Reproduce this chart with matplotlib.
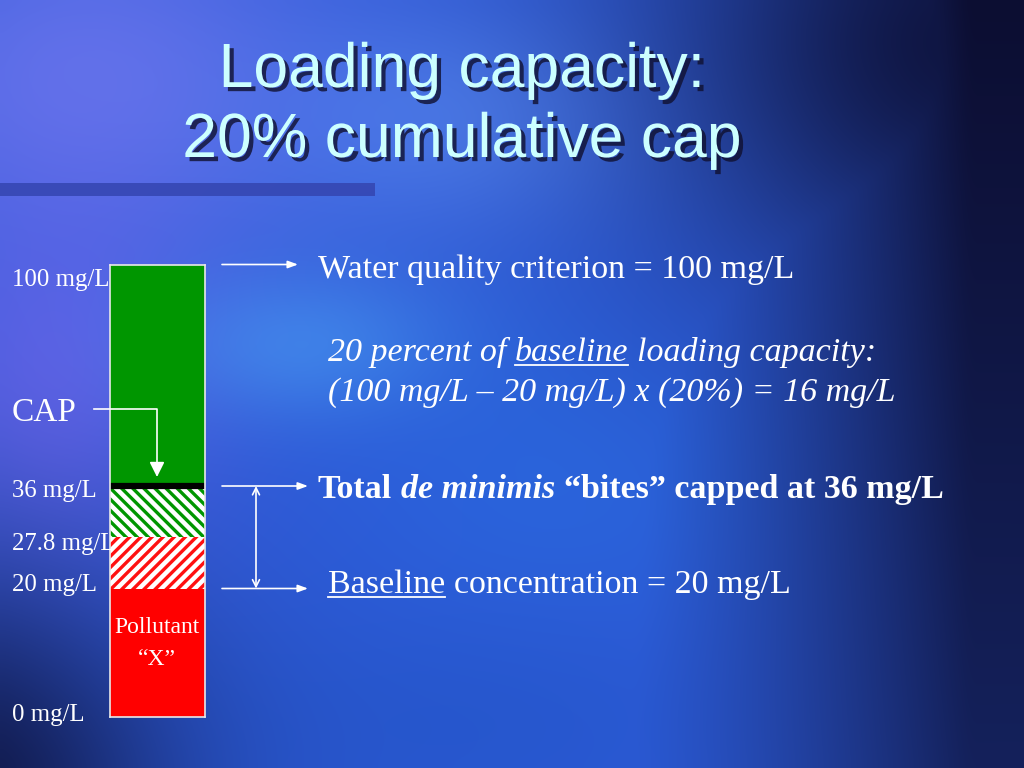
import numpy as np
import matplotlib
matplotlib.use("Agg")
import matplotlib.pyplot as plt
import matplotlib.patheffects as pe
from matplotlib import transforms

# concentration levels (mg/L) and the bar segments between them
levels = [0, 20, 27.8, 36, 100]
level_labels = ["0 mg/L", "20 mg/L", "27.8 mg/L", "36 mg/L", "100 mg/L"]
seg_faces = ["#ff0000", "white", "white", "#009600"]
seg_hatches = [None, "///", "\\\\\\", None]
seg_hatch_colors = ["#ff0000", "#ff1010", "#009600", "#009600"]
baseline = 20
cap = 36
criterion = 100

# where each level sits on the (not to scale) slide bar, px above the bar bottom
level_pos = [0, 128, 179.5, 230.5, 452]

W, H = 1024, 768
plt.rcParams["hatch.linewidth"] = 2.4
serif = "Liberation Serif"

fig = plt.figure(figsize=(W / 100, H / 100), dpi=100)

# ---- background ----
ov = fig.add_axes([0, 0, 1, 1])
ov.set_xlim(0, W)
ov.set_ylim(H, 0)
ov.axis("off")

gx, gy = np.meshgrid(np.linspace(0, 1, 128), np.linspace(0, 1, 96))


def blob(cx, cy, sx, sy):
    return np.exp(-(((gx - cx) / sx) ** 2 + ((gy - cy) / sy) ** 2))


img = np.zeros((96, 128, 3))
img[:] = np.array([45, 90, 215]) / 255
for (cx, cy, sx, sy, col, a) in [
    (0.08, 0.1, 0.25, 0.25, (115, 120, 240), 0.75),
    (0.05, 0.5, 0.15, 0.25, (110, 100, 235), 0.7),
    (0.3, 0.45, 0.15, 0.1, (75, 160, 245), 0.55),
    (0.45, 0.15, 0.2, 0.15, (90, 140, 245), 0.6),
    (0.55, 0.62, 0.2, 0.2, (40, 110, 225), 0.5),
    (0.45, 0.95, 0.25, 0.15, (35, 85, 200), 0.6),
]:
    w = a * blob(cx, cy, sx, sy)[..., None]
    img = img * (1 - w) + np.array(col) / 255 * w
dark = np.clip((gx - 0.62) / 0.33, 0, 1) ** 1.2 * (0.75 + 0.25 * (1 - gy))
dark = np.maximum(dark, 0.9 * blob(0.95, 0.05, 0.3, 0.35))
dark = np.maximum(dark, 0.85 * blob(-0.05, 1.05, 0.22, 0.3))
dark = np.clip(dark, 0, 1)[..., None]
img = img * (1 - dark) + np.array([12, 14, 50]) / 255 * dark
ov.imshow(img, extent=[0, W, H, 0], aspect="auto", interpolation="bicubic", zorder=0)

# title bar
ov.fill_between([0, 375], 183, 196, color="#3445b0", alpha=0.85, lw=0, zorder=1)

# ---- title ----
shadow = [pe.SimplePatchShadow(offset=(3, -3), shadow_rgbFace="#101030", alpha=0.8), pe.Normal()]
for txt, yb in [("Loading capacity:", 87), ("20% cumulative cap", 157)]:
    ov.text(462, yb, txt, fontsize=45, family="Liberation Sans", color="#ccffff",
            ha="center", va="baseline", path_effects=shadow, zorder=5)

# ---- bar ----
bar_h = level_pos[-1]
ax = fig.add_axes([110 / W, (H - 716.5) / H, 95 / W, bar_h / H])


def fwd(v):
    return np.interp(v, levels, level_pos)


def inv(p):
    return np.interp(p, level_pos, levels)


ax.set_yscale("function", functions=(fwd, inv))
ax.set_ylim(levels[0], levels[-1])
ax.set_xlim(-0.5, 0.5)
ax.patch.set_alpha(0)
for i in range(len(seg_faces)):
    ax.bar(0, levels[i + 1] - levels[i], bottom=levels[i], width=1,
           color=seg_faces[i], edgecolor=seg_hatch_colors[i], hatch=seg_hatches[i], lw=0)
ax.axhline(cap, color="black", lw=4.5)
ax.set_xticks([])
ax.set_yticks([])
for s in ax.spines.values():
    s.set_color("#e8e8e8")
    s.set_linewidth(1.2)

# ---- top overlay for arrows and text ----
top = fig.add_axes([0, 0, 1, 1])
top.set_xlim(0, W)
top.set_ylim(H, 0)
top.axis("off")
top.patch.set_alpha(0)

blend = transforms.blended_transform_factory(top.transData, ax.transData)

top.text(157, 633, "Pollutant", ha="center", va="baseline", fontsize=17, family=serif, color="white")
top.text(157, 665, "\u201cX\u201d", ha="center", va="baseline", fontsize=17, family=serif, color="white")

# level labels on the left
label_dy = {0: -4, 20: -2, 27.8: -13, 36: -11, 100: -21}
for lv, lab in zip(levels, level_labels):
    top.annotate(lab, xy=(12, lv), xycoords=blend, xytext=(0, label_dy[lv]),
                 textcoords="offset pixels", va="baseline", ha="left",
                 fontsize=17.8, family=serif, color="white")

# CAP label and arrow
top.text(12, 421, "CAP", fontsize=24, family=serif, color="white", va="baseline")
top.plot([94, 157, 157], [409, 409, 466], color="white", lw=1.2)
top.annotate("", xy=(157, 477), xytext=(157, 464),
             arrowprops=dict(arrowstyle="-|>,head_length=0.9,head_width=0.45", color="white", lw=1.2,
                             shrinkA=0, shrinkB=0))

# level arrows to the right
for lv, x1 in [(criterion, 298), (cap, 308), (baseline, 308)]:
    top.annotate("", xy=(x1, lv), xycoords=blend, xytext=(222, lv), textcoords=blend,
                 arrowprops=dict(arrowstyle="-|>,head_length=0.6,head_width=0.22", color="white", lw=1.2,
                                 shrinkA=0, shrinkB=0))
top.annotate("", xy=(256, cap), xycoords=blend, xytext=(256, baseline), textcoords=blend,
             arrowprops=dict(arrowstyle="<->,head_length=0.5,head_width=0.25", color="white", lw=1.2,
                             shrinkA=0, shrinkB=0))

# ---- right-hand text runs ----
fig.canvas.draw()
renderer = fig.canvas.get_renderer()


def runs(x, y, parts, size):
    sp = size * 100 / 72 * 0.25
    for k, (s, style, weight, under) in enumerate(parts):
        if k > 0:
            x += sp
        t = top.text(x, y, s, fontsize=size, family=serif, style=style, weight=weight,
                     color="white", va="baseline", ha="left")
        w = t.get_window_extent(renderer).width
        if under:
            top.plot([x, x + w], [y + 4, y + 4], color="white", lw=1.3)
        x += w


fs = 24.5
runs(318, 278, [("Water quality criterion = 100 mg/L", "normal", "normal", False)], fs)
runs(328, 361, [("20 percent of", "italic", "normal", False),
                ("baseline", "italic", "normal", True),
                ("loading capacity:", "italic", "normal", False)], fs)
runs(328, 401, [("(100 mg/L \u2013 20 mg/L) x (20%) = 16 mg/L", "italic", "normal", False)], fs)
runs(318, 498, [("Total", "normal", "bold", False),
                ("de minimis", "italic", "bold", False),
                ("\u201cbites\u201d capped at 36 mg/L", "normal", "bold", False)], fs)
runs(328, 593, [("Baseline", "normal", "normal", True),
                ("concentration = 20 mg/L", "normal", "normal", False)], fs)

fig.savefig("out.png", dpi=100)
